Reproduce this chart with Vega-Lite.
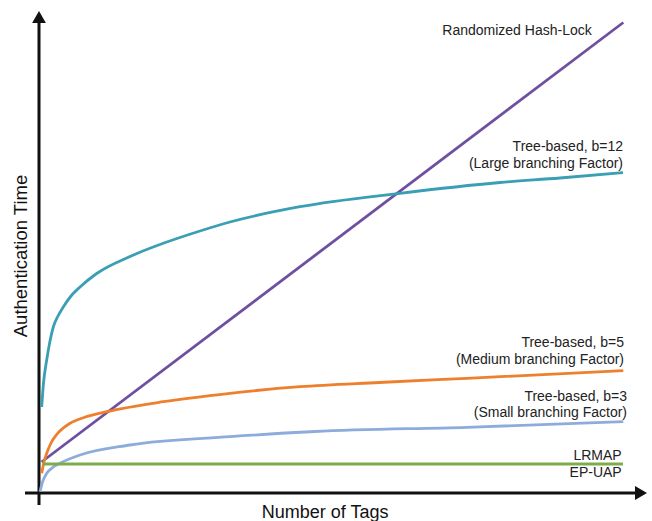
{
  "$schema": "https://vega.github.io/schema/vega-lite/v6.json",
  "width": 600,
  "height": 483,
  "autosize": {"type": "none"},
  "padding": {"left": 39, "top": 10, "right": 13, "bottom": 28},
  "background": "white",
  "config": {"view": {"stroke": null}, "font": "Liberation Sans"},
  "resolve": {"scale": {"x": "shared", "y": "shared"}},
  "datasets": {
    "curves": [
      {"series": "Randomized Hash-Lock", "x": 2.5, "y": 31},
      {"series": "Randomized Hash-Lock", "x": 584.3, "y": 470.5},
      {"series": "Tree-based, b=12", "x": 2.7, "y": 86},
      {"series": "Tree-based, b=12", "x": 4.5, "y": 110},
      {"series": "Tree-based, b=12", "x": 7.7, "y": 133},
      {"series": "Tree-based, b=12", "x": 11, "y": 152},
      {"series": "Tree-based, b=12", "x": 14.3, "y": 166},
      {"series": "Tree-based, b=12", "x": 19, "y": 177},
      {"series": "Tree-based, b=12", "x": 24.3, "y": 186},
      {"series": "Tree-based, b=12", "x": 32, "y": 197},
      {"series": "Tree-based, b=12", "x": 41, "y": 206},
      {"series": "Tree-based, b=12", "x": 57.7, "y": 219.5},
      {"series": "Tree-based, b=12", "x": 91, "y": 236.5},
      {"series": "Tree-based, b=12", "x": 124.3, "y": 249.7},
      {"series": "Tree-based, b=12", "x": 161, "y": 262},
      {"series": "Tree-based, b=12", "x": 191, "y": 271},
      {"series": "Tree-based, b=12", "x": 261, "y": 286.3},
      {"series": "Tree-based, b=12", "x": 361, "y": 299.7},
      {"series": "Tree-based, b=12", "x": 461, "y": 310.5},
      {"series": "Tree-based, b=12", "x": 521, "y": 315},
      {"series": "Tree-based, b=12", "x": 584, "y": 320.5},
      {"series": "Tree-based, b=5", "x": 2.7, "y": 19.7},
      {"series": "Tree-based, b=5", "x": 5, "y": 31},
      {"series": "Tree-based, b=5", "x": 7.7, "y": 39.7},
      {"series": "Tree-based, b=5", "x": 12, "y": 50},
      {"series": "Tree-based, b=5", "x": 17.7, "y": 58.5},
      {"series": "Tree-based, b=5", "x": 31, "y": 69.7},
      {"series": "Tree-based, b=5", "x": 45, "y": 75.5},
      {"series": "Tree-based, b=5", "x": 67.7, "y": 81.3},
      {"series": "Tree-based, b=5", "x": 124.3, "y": 91.3},
      {"series": "Tree-based, b=5", "x": 191, "y": 99.7},
      {"series": "Tree-based, b=5", "x": 261, "y": 106.3},
      {"series": "Tree-based, b=5", "x": 340, "y": 110.5},
      {"series": "Tree-based, b=5", "x": 427.7, "y": 114.7},
      {"series": "Tree-based, b=5", "x": 584.3, "y": 122.3},
      {"series": "Tree-based, b=3", "x": 1, "y": 1.3},
      {"series": "Tree-based, b=3", "x": 3.5, "y": 11},
      {"series": "Tree-based, b=3", "x": 7.7, "y": 19.7},
      {"series": "Tree-based, b=3", "x": 13, "y": 25},
      {"series": "Tree-based, b=3", "x": 21, "y": 29.7},
      {"series": "Tree-based, b=3", "x": 41, "y": 38},
      {"series": "Tree-based, b=3", "x": 91, "y": 48},
      {"series": "Tree-based, b=3", "x": 191, "y": 56.3},
      {"series": "Tree-based, b=3", "x": 276, "y": 61.5},
      {"series": "Tree-based, b=3", "x": 427.7, "y": 65.7},
      {"series": "Tree-based, b=3", "x": 584.3, "y": 71.3},
      {"series": "LRMAP", "x": 4, "y": 29},
      {"series": "LRMAP", "x": 584, "y": 29}
    ],
    "labels": [
      {"text": "Randomized Hash-Lock", "x": 552.7, "y": 462.3},
      {"text": "Tree-based, b=12", "x": 584, "y": 346.3},
      {"text": "(Large branching Factor)", "x": 584, "y": 328.7},
      {"text": "Tree-based, b=5", "x": 585, "y": 149.7},
      {"text": "(Medium branching Factor)", "x": 585, "y": 133},
      {"text": "Tree-based, b=3", "x": 588, "y": 96.3},
      {"text": "(Small branching Factor)", "x": 588, "y": 79.7},
      {"text": "LRMAP", "x": 582.7, "y": 37},
      {"text": "EP-UAP", "x": 582.7, "y": 20.3}
    ],
    "axes": [
      {"axis": "y", "x": 0, "y": -12, "x2": 0, "y2": 472},
      {"axis": "x", "x": -14, "y": 0, "x2": 598, "y2": 0}
    ],
    "arrows": [
      {"shape": "triangle-up", "x": 0, "y": 476},
      {"shape": "triangle-right", "x": 602, "y": 0}
    ]
  },
  "layer": [
    {
      "data": {"name": "axes"},
      "mark": {"type": "rule", "color": "#111111", "strokeWidth": 3},
      "encoding": {
        "x": {"field": "x", "type": "quantitative", "scale": {"domain": [0, 600], "nice": false, "zero": false},
          "axis": {"title": "Number of Tags", "domain": false, "ticks": false, "labels": false, "grid": false,
            "titleFontSize": 18, "titleFontWeight": "normal", "titleColor": "#111111", "titleX": 285.7, "titleY": 24, "titleBaseline": "alphabetic", "titleAlign": "center"}},
        "y": {"field": "y", "type": "quantitative", "scale": {"domain": [0, 483], "nice": false, "zero": false},
          "axis": {"title": "Authentication Time", "domain": false, "ticks": false, "labels": false, "grid": false,
            "titleFontSize": 18.5, "titleFontWeight": "normal", "titleColor": "#111111", "titleX": -19, "titleY": 245.5, "titleBaseline": "middle", "titleAlign": "center", "titleAngle": 270}},
        "x2": {"field": "x2"},
        "y2": {"field": "y2"}
      }
    },
    {
      "data": {"name": "arrows"},
      "mark": {"type": "point", "filled": true, "color": "#111111", "opacity": 1, "size": 190},
      "encoding": {
        "x": {"field": "x", "type": "quantitative", "scale": {"domain": [0, 600], "nice": false, "zero": false}},
        "y": {"field": "y", "type": "quantitative", "scale": {"domain": [0, 483], "nice": false, "zero": false}},
        "shape": {"field": "shape", "type": "nominal", "scale": null, "legend": null}
      }
    },
    {
      "data": {"name": "curves"},
      "mark": {"type": "line", "strokeWidth": 2.8, "interpolate": "monotone"},
      "encoding": {
        "x": {"field": "x", "type": "quantitative", "scale": {"domain": [0, 600], "nice": false, "zero": false}},
        "y": {"field": "y", "type": "quantitative", "scale": {"domain": [0, 483], "nice": false, "zero": false}},
        "color": {"field": "series", "type": "nominal", "legend": null,
          "scale": {"domain": ["Randomized Hash-Lock", "Tree-based, b=12", "Tree-based, b=5", "Tree-based, b=3", "LRMAP"],
            "range": ["#6F4F9F", "#3A9FB5", "#EE7F2D", "#8EACDB", "#7CAD4B"]}}
      }
    },
    {
      "data": {"name": "labels"},
      "mark": {"type": "text", "align": "right", "baseline": "middle", "fontSize": 14, "color": "#222222"},
      "encoding": {
        "x": {"field": "x", "type": "quantitative", "scale": {"domain": [0, 600], "nice": false, "zero": false}},
        "y": {"field": "y", "type": "quantitative", "scale": {"domain": [0, 483], "nice": false, "zero": false}},
        "text": {"field": "text"}
      }
    }
  ]
}
